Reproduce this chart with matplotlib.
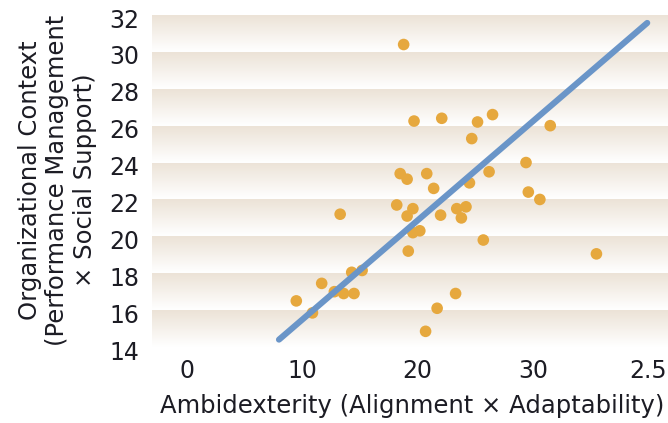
import numpy as np
import matplotlib
matplotlib.use("Agg")
import matplotlib.pyplot as plt
import matplotlib.transforms as mtransforms
from matplotlib.colors import LinearSegmentedColormap

# Ambidexterity (x) vs organizational context (y)
ambidexterity = [18.8, 19.7, 22.1, 25.2, 26.5, 31.5, 24.7, 29.4, 18.5, 19.1,
                 20.8, 26.2, 21.4, 24.5, 29.6, 30.6, 13.3, 18.2, 19.6, 19.1,
                 22.0, 23.4, 24.2, 23.8, 19.6, 20.2, 25.7, 19.2, 14.3, 15.2,
                 11.7, 12.8, 13.6, 14.5, 9.5, 10.9, 23.3, 21.7, 20.7, 35.5]
context = [30.4, 26.25, 26.4, 26.2, 26.6, 26.0, 25.3, 24.0, 23.4, 23.1,
           23.4, 23.5, 22.6, 22.9, 22.4, 22.0, 21.2, 21.7, 21.5, 21.1,
           21.15, 21.5, 21.6, 21.0, 20.2, 20.3, 19.8, 19.2, 18.05, 18.15,
           17.45, 17.0, 16.9, 16.9, 16.5, 15.85, 16.9, 16.1, 14.85, 19.05]

# fitted line end points
fit_x = [8.0, 39.9]
fit_y = [14.4, 31.57]

x_ticks = [0, 10, 20, 30, 40]
x_tick_labels = ["0", "10", "20", "30", "2.5"]
y_ticks = [14, 16, 18, 20, 22, 24, 26, 28, 30, 32]

plt.rcParams["font.family"] = ["DejaVu Sans"]
TEXT = "#1c1c24"

fig = plt.figure(figsize=(6.68, 4.23), dpi=100, facecolor="white")
ax = fig.add_axes([152 / 668, 1 - 347 / 423, 516 / 668, 332 / 423])
ax.set_xlim(-3.0, 41.7)
ax.set_ylim(14, 32)

# banded background: beige at the top of every band fading to white
band_cmap = LinearSegmentedColormap.from_list("band", ["#ffffff", "#ece3d7"])
grad = np.linspace(0, 1, 64).reshape(-1, 1)
for lo, hi in zip(y_ticks[:-1], y_ticks[1:]):
    ax.imshow(grad, cmap=band_cmap, origin="lower", aspect="auto",
              extent=(-3.0, 41.7, lo, hi), zorder=0, vmin=0, vmax=1)

ax.scatter(ambidexterity, context, s=70, color="#e6a83e", edgecolor="none", zorder=2)
ax.plot(fit_x, fit_y, color="#6a95c8", linewidth=4.4, solid_capstyle="round",
        zorder=3, clip_on=False)

for s in ax.spines.values():
    s.set_visible(False)
ax.set_xticks(x_ticks)
ax.set_xticklabels(x_tick_labels)
ax.set_yticks(y_ticks)
ax.tick_params(axis="y", length=0, labelsize=17, colors=TEXT, pad=9)
ax.tick_params(axis="x", length=0, labelsize=17, colors=TEXT, pad=9)

# y tick labels sit a little below their band edges in the original
shift = mtransforms.ScaledTranslation(0, -0.03, fig.dpi_scale_trans)
for lab in ax.get_yticklabels():
    lab.set_transform(lab.get_transform() + shift)

ax.set_xlabel("Ambidexterity (Alignment × Adaptability)", fontsize=17.5, color=TEXT)
ax.xaxis.set_label_coords(0.504, -0.142)
ax.set_ylabel("Organizational Context\n(Performance Management\n× Social Support)",
              fontsize=17.5, color=TEXT, linespacing=1.18)
ax.yaxis.set_label_coords(-0.107, 0.503)

fig.savefig("out.png", dpi=100, facecolor="white")
plt.close(fig)
